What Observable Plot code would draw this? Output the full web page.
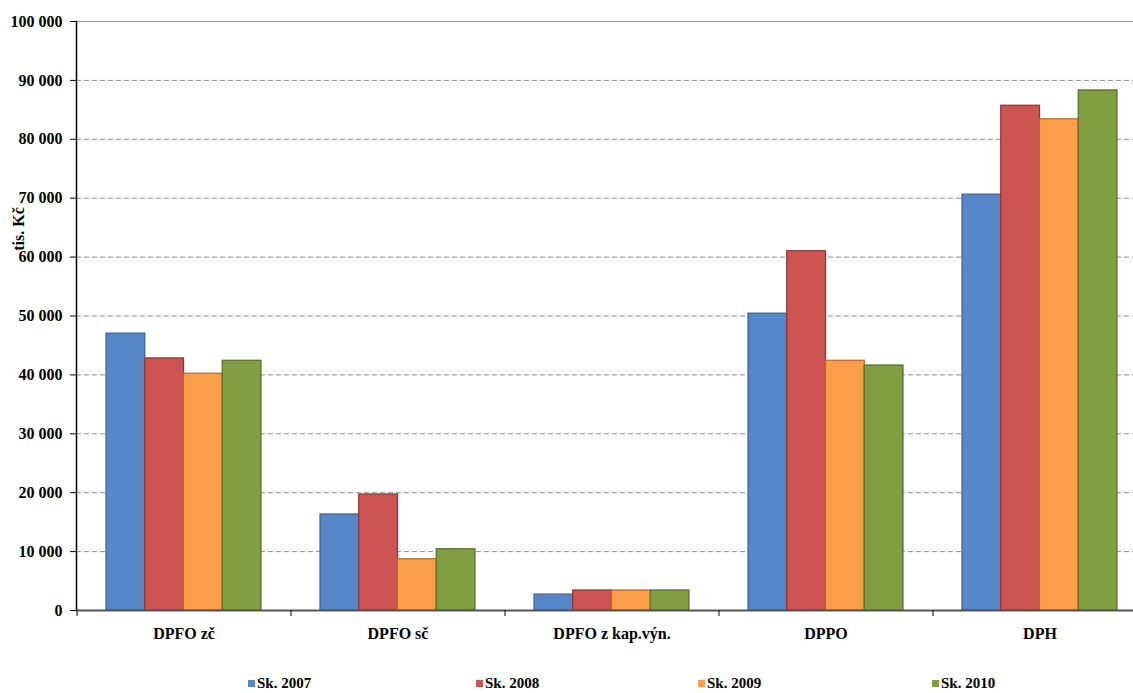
<!DOCTYPE html>
<html><head><meta charset="utf-8">
<script src="https://cdn.jsdelivr.net/npm/d3@7"></script>
<script src="https://cdn.jsdelivr.net/npm/@observablehq/plot@0.6"></script>
<style>
body{margin:0;background:#fff;overflow:hidden}
#wrap{position:relative;width:1133px;height:693px;overflow:hidden;font-family:"Liberation Serif","Times New Roman",serif;font-weight:bold}
#ylab{position:absolute;left:19px;top:229px;transform:translate(-50%,-50%) rotate(-90deg);font-size:16px;white-space:nowrap}
.leg{position:absolute;top:675px;font-size:15px;display:flex;align-items:center;white-space:nowrap}
.leg span.sw{display:inline-block;width:7px;height:7px;margin-right:2px}
</style></head>
<body><div id="wrap"><div id="chart"></div><div id="ylab">tis. Kč</div><div id="legend"></div></div>
<script>
const categories = ["DPFO zč", "DPFO sč", "DPFO z kap.výn.", "DPPO", "DPH"];
const series = ["Sk. 2007", "Sk. 2008", "Sk. 2009", "Sk. 2010"];
const v2007 = [47000, 16300, 2700, 50400, 70600];
const v2008 = [42800, 19700, 3400, 61000, 85700];
const v2009 = [40200, 8700, 3400, 42400, 83400];
const v2010 = [42400, 10400, 3400, 41600, 88300];
const yTicks = [0, 10000, 20000, 30000, 40000, 50000, 60000, 70000, 80000, 90000, 100000];
const colors = ["#5688c9", "#cd5452", "#fa9e4a", "#819f42"];
const strokes = ["#3a5f8e", "#8e3533", "#b56a28", "#566d2a"];
const legendX = [248, 476, 698, 932];

const values = [v2007, v2008, v2009, v2010];
const rows = [];
series.forEach((s, i) => categories.forEach((c, j) => rows.push({cat: c, series: s, si: i, value: values[i][j]})));

const W = 1133, ML = 76, MR = -13, PI = 0.276, PO = PI / 2;
const step = (W - ML - MR) / (categories.length - PI + 2 * PO);
const bw = step * (1 - PI);
const barW = bw / series.length;
const fmt = d => d3.format(",")(d).replace(/,/g, " ");

const barMarks = series.map((s, i) => Plot.barY(rows.filter(r => r.si === i), {
  x: "cat", y: "value", fill: colors[i], stroke: strokes[i], strokeWidth: 1.2,
  insetLeft: i * barW, insetRight: (series.length - 1 - i) * barW
}));

const plot = Plot.plot({
  width: W, height: 660,
  marginLeft: ML, marginRight: MR, marginTop: 21, marginBottom: 50,
  style: {fontFamily: "'Liberation Serif','Times New Roman',serif", fontWeight: "bold", fontSize: "16px", color: "#000", background: "#fff"},
  x: {domain: categories, paddingInner: PI, paddingOuter: PO, label: null},
  y: {domain: [0, 100000], label: null},
  marks: [
    Plot.gridY(yTicks.filter(t => t > 0 && t < 100000), {stroke: "#8c8c8c", strokeOpacity: 1, strokeDasharray: "5,3"}),
    Plot.ruleY([100000], {stroke: "#9a9a9a"}),
    ...barMarks,
    Plot.ruleY([0], {stroke: "#555", strokeWidth: 2}),
    Plot.frame({anchor: "left", stroke: "#000", strokeWidth: 1.5}),
    Plot.axisY({ticks: yTicks, tickFormat: fmt, tickSize: 6, tickPadding: 8, label: null, fontSize: 16, fontWeight: "bold"}),
    Plot.axisX({tickSize: 0, tickPadding: 17, label: null, fontSize: 16, fontWeight: "bold"}),
    Plot.axisX({tickSize: 6, tickFormat: () => "", label: null, dx: -step / 2, stroke: "#000"})
  ]
});
document.getElementById("chart").appendChild(plot);

const leg = document.getElementById("legend");
series.forEach((s, i) => {
  const d = document.createElement("div");
  d.className = "leg";
  d.style.left = legendX[i] + "px";
  d.innerHTML = `<span class="sw" style="background:${colors[i]}"></span>${s}`;
  leg.appendChild(d);
});
</script></body></html>
